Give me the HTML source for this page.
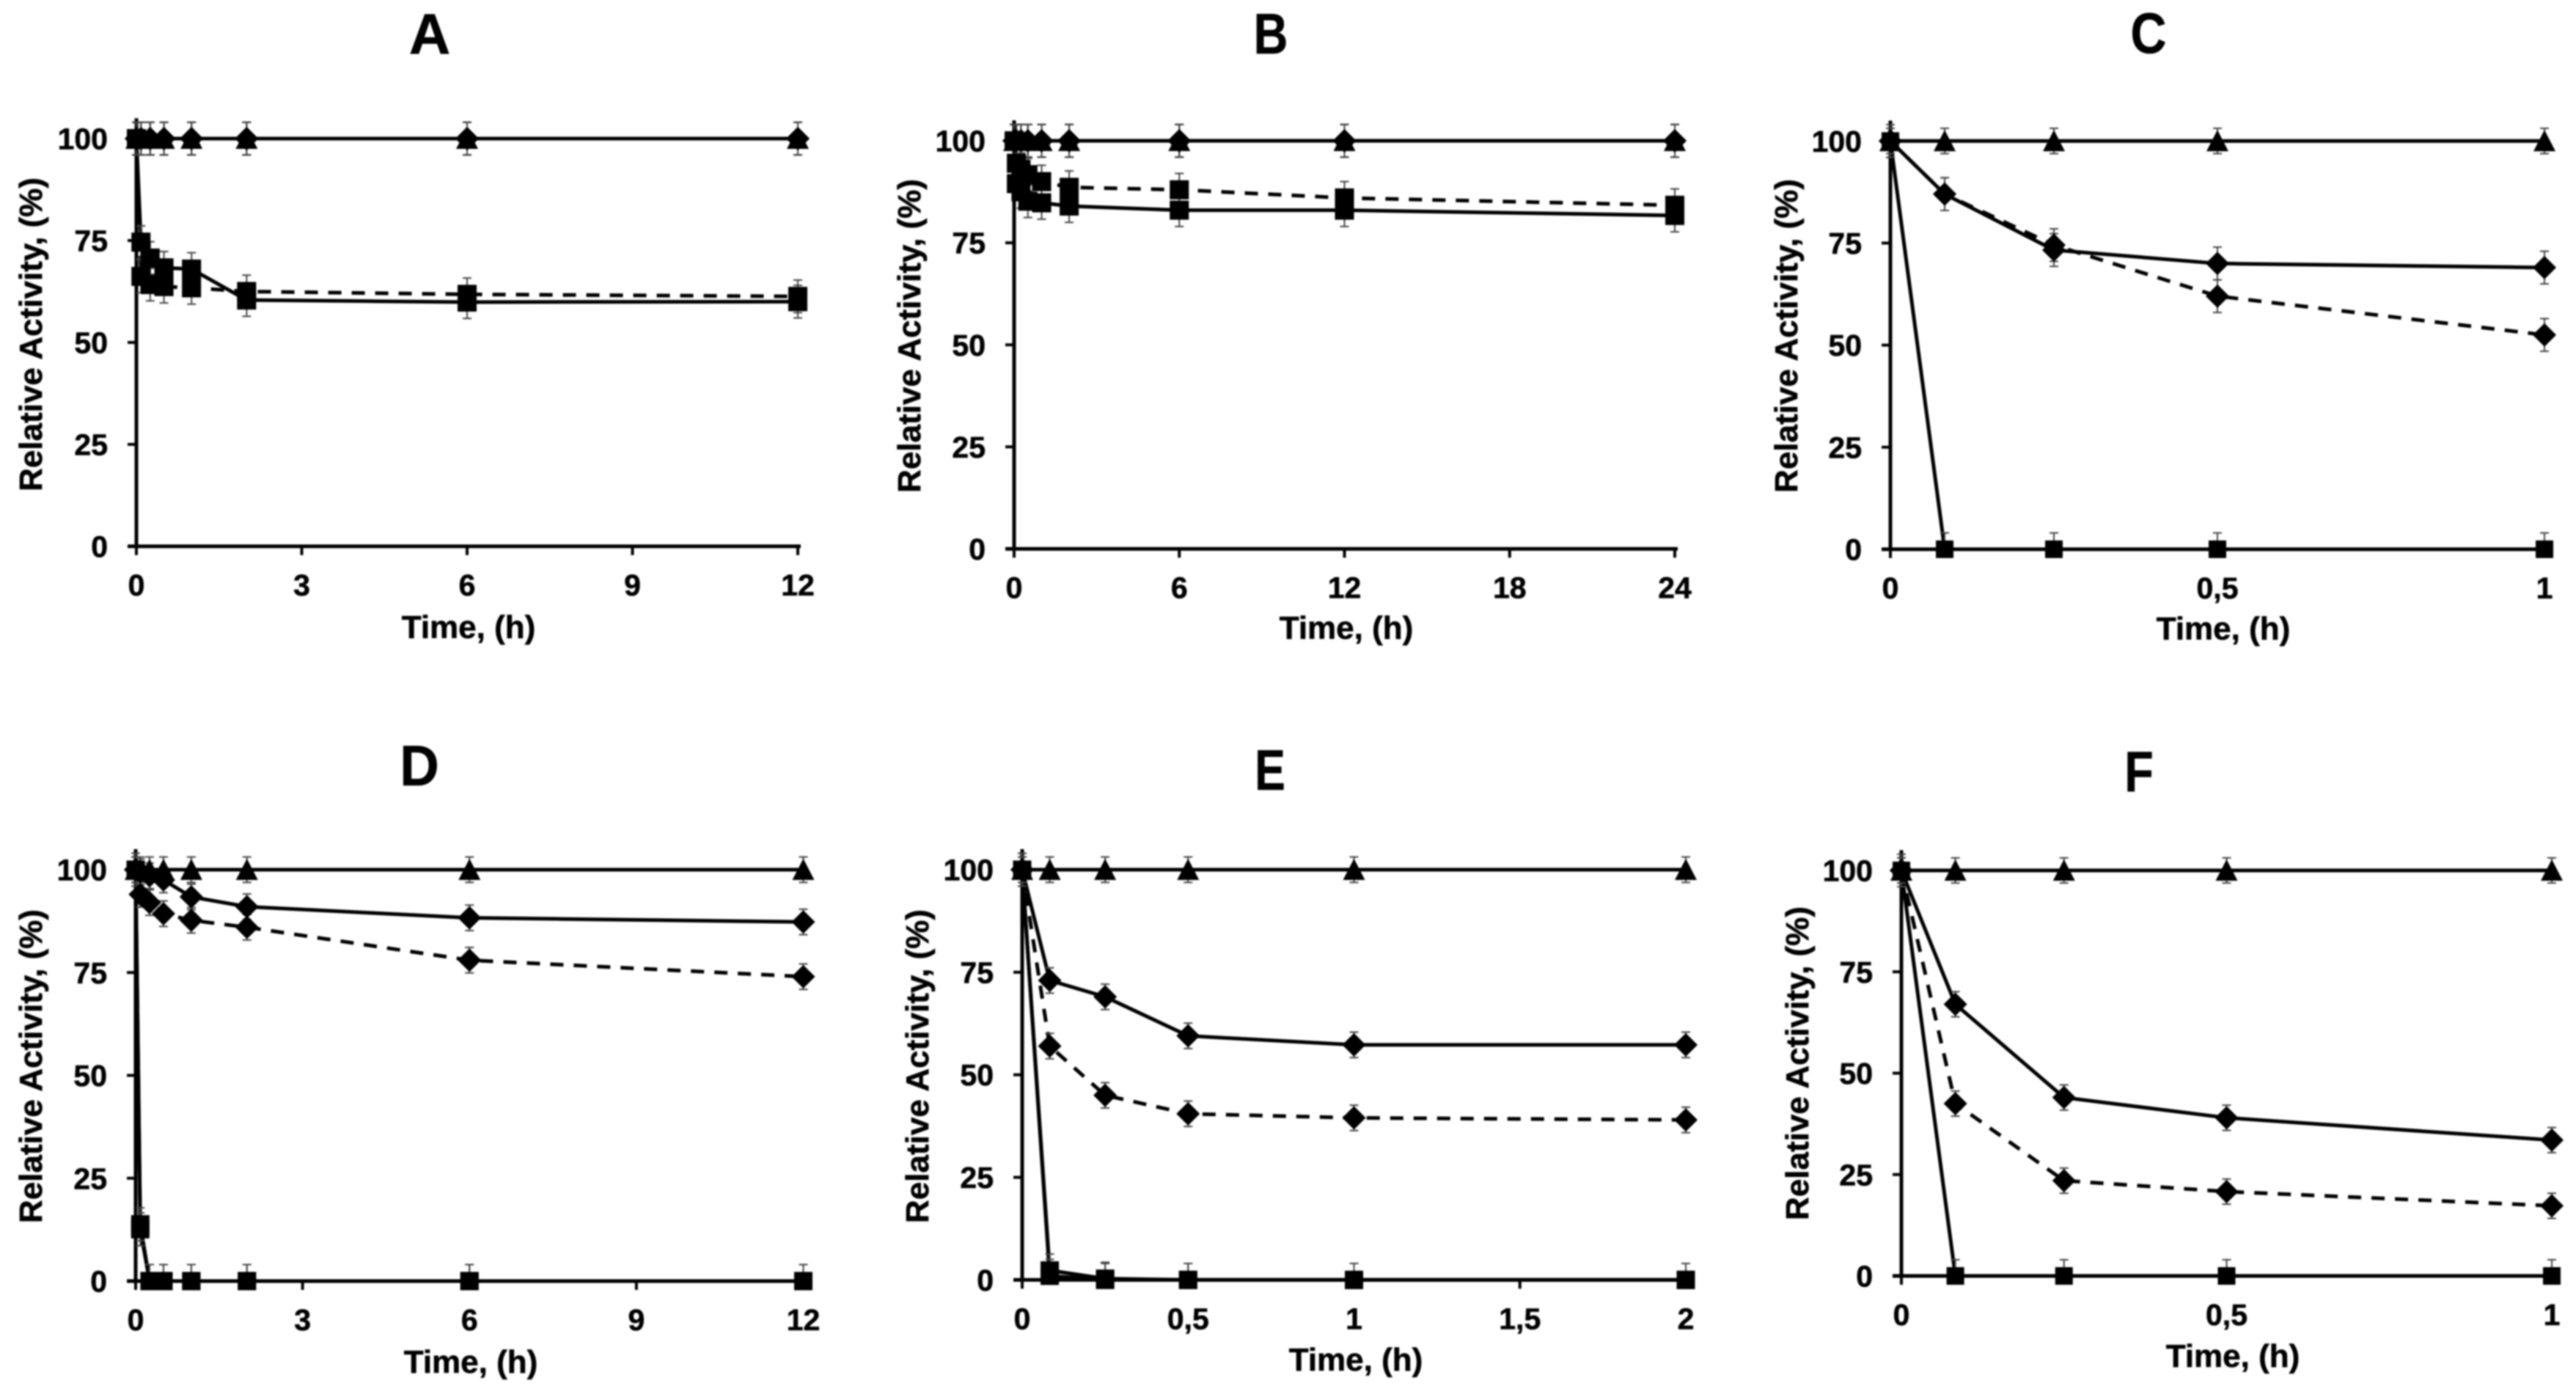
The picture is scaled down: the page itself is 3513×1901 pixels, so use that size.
<!DOCTYPE html>
<html lang="en">
<head>
<meta charset="utf-8">
<title>Relative activity over time, panels A to F</title>
<style>
html,body{margin:0;padding:0;background:#fff;width:3513px;height:1901px;overflow:hidden}
svg{display:block;filter:blur(1px)}
text{font-family:"Liberation Sans",Arial,sans-serif;font-weight:700;fill:#000;stroke:#000;stroke-width:.6px}
.letter{font-size:78px}
.title{font-size:44px;text-anchor:middle}
.tick{font-size:41px}
</style>
</head>
<body>
<svg id="fig" xmlns="http://www.w3.org/2000/svg" width="3513" height="1901" viewBox="0 0 3513 1901">
  <rect width="3513" height="1901" fill="#fff"/>

  <g id="panel-a">
    <text class="letter" text-anchor="middle" transform="translate(586,73)">A</text>
    <text class="title" x="639" y="870">Time, (h)</text>
    <text class="title" transform="translate(57,456) rotate(-90)">Relative Activity, (%)</text>
  </g>
  <g id="panel-b">
    <text class="letter" text-anchor="middle" transform="translate(1733,73) scale(.83,1)">B</text>
    <text class="title" x="1836" y="871">Time, (h)</text>
    <text class="title" transform="translate(1255,458) rotate(-90)">Relative Activity, (%)</text>
  </g>
  <g id="panel-c">
    <text class="letter" text-anchor="middle" transform="translate(2930,72) scale(.87,1)">C</text>
    <text class="title" x="3032" y="872">Time, (h)</text>
    <text class="title" transform="translate(2451,458) rotate(-90)">Relative Activity, (%)</text>
  </g>
  <g id="panel-d">
    <text class="letter" text-anchor="middle" transform="translate(572,1071) scale(.95,1)">D</text>
    <text class="title" x="642" y="1872">Time, (h)</text>
    <text class="title" transform="translate(57,1454) rotate(-90)">Relative Activity, (%)</text>
  </g>
  <g id="panel-e">
    <text class="letter" text-anchor="middle" transform="translate(1732,1077) scale(.8,1)">E</text>
    <text class="title" x="1849" y="1869">Time, (h)</text>
    <text class="title" transform="translate(1266,1454) rotate(-90)">Relative Activity, (%)</text>
  </g>
  <g id="panel-f">
    <text class="letter" text-anchor="middle" transform="translate(2917,1079) scale(.83,1)">F</text>
    <text class="title" x="3045" y="1864">Time, (h)</text>
    <text class="title" transform="translate(2466,1450) rotate(-90)">Relative Activity, (%)</text>
  </g>
</svg>

<script>
// ---- Shared y axis ----
const yTickValues = [0, 25, 50, 75, 100];
const yTickLabels = ['0', '25', '50', '75', '100'];

// ---- Panel A ----
const aTimes = [0, 0.083, 0.25, 0.5, 1, 2, 6, 12];
const aXTicks = [0, 3, 6, 9, 12];
const aXTickLabels = ['0', '3', '6', '9', '12'];
const aDiamondSolid = [100, 100, 100, 100, 100, 100, 100, 100];
const aDiamondDashed = [100, 100, 100, 100, 100, 100, 100, 100];
const aSquareDashed = [100, 66.2, 64.2, 63.7, 63.4, 62.5, 61.8, 61.3];
const aSquareSolid = [100, 74.6, 70.7, 68.3, 68, 60.4, 59.9, 60];
const aTriangle = [100, 100, 100, 100, 100, 100, 100, 100];

// ---- Panel B ----
const bTimes = [0, 0.083, 0.25, 0.5, 1, 2, 6, 12, 24];
const bXTicks = [0, 6, 12, 18, 24];
const bXTickLabels = ['0', '6', '12', '18', '24'];
const bDiamondSolid = [100, 100, 100, 100, 100, 100, 100, 100, 100];
const bDiamondDashed = [100, 100, 100, 100, 100, 100, 100, 100, 100];
const bSquareDashed = [100, 94.5, 93, 91.7, 90, 88.6, 88, 86, 84.2];
const bSquareSolid = [100, 89.5, 87.5, 85.2, 84.8, 84, 83, 83, 81.7];
const bTriangle = [100, 100, 100, 100, 100, 100, 100, 100, 100];

// ---- Panel C ----
const cTimes = [0, 0.083, 0.25, 0.5, 1];
const cXTicks = [0, 0.5, 1];
const cXTickLabels = ['0', '0,5', '1'];
const cDiamondSolid = [100, 87, 73.3, 70, 69];
const cDiamondDashed = [100, 87, 74.5, 62, 52.5];
const cSquare = [100, 0, 0, 0, 0];
const cTriangle = [100, 100, 100, 100, 100];

// ---- Panel D ----
const dTimes = [0, 0.083, 0.25, 0.5, 1, 2, 6, 12];
const dXTicks = [0, 3, 6, 9, 12];
const dXTickLabels = ['0', '3', '6', '9', '12'];
const dDiamondSolid = [100, 99.5, 98.5, 97.5, 93.4, 91, 88.3, 87.3];
const dDiamondDashed = [100, 94, 92, 89.3, 87.7, 86, 78, 74];
const dSquare = [100, 13.8, 0, 0, 0, 0, 0, 0];
const dSquareLower = [100, 12.6, 0, 0, 0, 0, 0, 0];
const dTriangle = [100, 100, 100, 100, 100, 100, 100, 100];

// ---- Panel E ----
const eTimes = [0, 0.083, 0.25, 0.5, 1, 2];
const eXTicks = [0, 0.5, 1, 1.5, 2];
const eXTickLabels = ['0', '0,5', '1', '1,5', '2'];
const eDiamondSolid = [100, 73, 69, 59.5, 57.3, 57.3];
const eDiamondDashed = [100, 57, 45, 40.5, 39.5, 39];
const eSquare = [100, 2.3, 0.3, 0, 0, 0];
const eSquareLower = [100, 1, 0, 0, 0, 0];
const eTriangle = [100, 100, 100, 100, 100, 100];

// ---- Panel F ----
const fTimes = [0, 0.083, 0.25, 0.5, 1];
const fXTicks = [0, 0.5, 1];
const fXTickLabels = ['0', '0,5', '1'];
const fDiamondSolid = [100, 67, 44, 39, 33.5];
const fDiamondDashed = [100, 42.5, 23.5, 20.8, 17.3];
const fSquare = [100, 0, 0, 0, 0];
const fTriangle = [100, 100, 100, 100, 100];

// ---- Error-bar half widths, in activity units ----
const errWide = 4;
const errTriangleNarrow = 3.1;
const errDiamondNarrow = 3.1;

// ---- Layout (frame geometry only; marks are derived from the arrays above) ----
const panels = [
  {id:'a', x0:186,  x1:1088, xMax:12, y100:189, y0:745,  sq:26, times:aTimes, ticks:aXTicks, labels:aXTickLabels, series:[
    {n:'diamond-solid', v:aDiamondSolid, m:'diamond', dash:false, e:errWide},
    {n:'diamond-dashed', v:aDiamondDashed, m:'diamond', dash:true, e:errWide},
    {n:'square-dashed', v:aSquareDashed, m:'square', dash:true, e:errWide},
    {n:'square-solid', v:aSquareSolid, m:'square', dash:false, e:errWide},
    {n:'triangle', v:aTriangle, m:'triangle', dash:false, e:errWide}]},
  {id:'b', x0:1383, x1:2284, xMax:24, y100:192, y0:748.5, sq:26, times:bTimes, ticks:bXTicks, labels:bXTickLabels, series:[
    {n:'diamond-solid', v:bDiamondSolid, m:'diamond', dash:false, e:errWide},
    {n:'diamond-dashed', v:bDiamondDashed, m:'diamond', dash:true, e:errWide},
    {n:'square-dashed', v:bSquareDashed, m:'square', dash:true, e:errWide},
    {n:'square-solid', v:bSquareSolid, m:'square', dash:false, e:errWide},
    {n:'triangle', v:bTriangle, m:'triangle', dash:false, e:errWide}]},
  {id:'c', x0:2578, x1:3470, xMax:1, y100:192.3, y0:749, sq:24, times:cTimes, ticks:cXTicks, labels:cXTickLabels, series:[
    {n:'diamond-dashed', v:cDiamondDashed, m:'diamond', dash:true, e:errWide},
    {n:'diamond-solid', v:cDiamondSolid, m:'diamond', dash:false, e:errWide},
    {n:'triangle', v:cTriangle, m:'triangle', dash:false, e:errTriangleNarrow},
    {n:'square', v:cSquare, m:'square', dash:false, e:errWide}]},
  {id:'d', x0:185,  x1:1095.5, xMax:12, y100:1186, y0:1747, sq:25, times:dTimes, ticks:dXTicks, labels:dXTickLabels, series:[
    {n:'diamond-dashed', v:dDiamondDashed, m:'diamond', dash:true, e:errDiamondNarrow},
    {n:'diamond-solid', v:dDiamondSolid, m:'diamond', dash:false, e:errDiamondNarrow},
    {n:'triangle', v:dTriangle, m:'triangle', dash:false, e:errTriangleNarrow},
    {n:'square-lower', v:dSquareLower, m:'square', dash:false, e:errWide},
    {n:'square', v:dSquare, m:'square', dash:false, e:errWide}]},
  {id:'e', x0:1394, x1:2299, xMax:2, y100:1186, y0:1745.4, sq:25, times:eTimes, ticks:eXTicks, labels:eXTickLabels, series:[
    {n:'diamond-dashed', v:eDiamondDashed, m:'diamond', dash:true, e:errDiamondNarrow},
    {n:'diamond-solid', v:eDiamondSolid, m:'diamond', dash:false, e:errDiamondNarrow},
    {n:'triangle', v:eTriangle, m:'triangle', dash:false, e:errTriangleNarrow},
    {n:'square-lower', v:eSquareLower, m:'square', dash:false, e:errWide},
    {n:'square', v:eSquare, m:'square', dash:false, e:errWide}]},
  {id:'f', x0:2593, x1:3480, xMax:1, y100:1187, y0:1740, sq:24, times:fTimes, ticks:fXTicks, labels:fXTickLabels, series:[
    {n:'diamond-dashed', v:fDiamondDashed, m:'diamond', dash:true, e:errDiamondNarrow},
    {n:'diamond-solid', v:fDiamondSolid, m:'diamond', dash:false, e:errDiamondNarrow},
    {n:'triangle', v:fTriangle, m:'triangle', dash:false, e:errTriangleNarrow},
    {n:'square', v:fSquare, m:'square', dash:false, e:errWide}]}
];

const NS = 'http://www.w3.org/2000/svg';
function make(parent, tag, attrs) {
  const el = document.createElementNS(NS, tag);
  for (const k in attrs) el.setAttribute(k, attrs[k]);
  parent.appendChild(el);
  return el;
}
function xScale(p, t) { return p.x0 + t / p.xMax * (p.x1 - p.x0); }
function yScale(p, v) { return p.y0 - v / 100 * (p.y0 - p.y100); }

function drawAxes(p, root) {
  const g = make(root, 'g', {});
  
  

  const yAxis = make(g, 'line', {x1:p.x0, x2:p.x0, y1:yScale(p, 105), y2:p.y0 + 2, stroke:'#000', 'stroke-width':5});
  
  

  const xAxis = make(g, 'line', {x1:p.x0 - 12, x2:p.x1 + 4, y1:p.y0, y2:p.y0, stroke:'#000', 'stroke-width':5});
  
  

  yTickValues.forEach(function (v, i) {
    const tick = make(g, 'line', {x1:p.x0 - 12, x2:p.x0, y1:yScale(p, v), y2:yScale(p, v), stroke:'#000', 'stroke-width':4});
    
    

    const label = make(g, 'text', {class:'tick', x:p.x0 - 39, y:yScale(p, v) + 14.5, 'text-anchor':'end'});
    label.textContent = yTickLabels[i];
    
    
  });

  p.ticks.forEach(function (t, i) {
    const tick = make(g, 'line', {x1:xScale(p, t), x2:xScale(p, t), y1:p.y0, y2:p.y0 + 12, stroke:'#000', 'stroke-width':4});
    
    

    const label = make(g, 'text', {class:'tick', x:xScale(p, t), y:p.y0 + 67, 'text-anchor':'middle'});
    label.textContent = p.labels[i];
    
    
  });
}

function drawMarker(g, p, s, x, y) {
  let el;
  if (s.m === 'square') {
    el = make(g, 'rect', {x:x - p.sq / 2, y:y - p.sq / 2, width:p.sq, height:p.sq, fill:'#000'});
  } else if (s.m === 'diamond') {
    el = make(g, 'polygon', {points:[x, y - 16, x + 16, y, x, y + 16, x - 16, y].join(' '), fill:'#000'});
  } else {
    el = make(g, 'polygon', {points:[x, y - 15, x + 15, y + 14, x - 15, y + 14].join(' '), fill:'#000'});
  }
  
  
}

function drawSeries(p, root) {
  const lineLayer = make(root, 'g', {});
  
  

  const errorLayer = make(root, 'g', {});
  
  

  const pointLayer = make(root, 'g', {});
  
  

  p.series.forEach(function (s) {
    const pts = s.v.map(function (v, i) { return xScale(p, p.times[i]) + ',' + yScale(p, v); }).join(' ');
    const attrs = {points:pts, fill:'none', stroke:'#000', 'stroke-width':5, 'stroke-linejoin':'round'};
    if (s.dash) attrs['stroke-dasharray'] = '18 14';
    const line = make(lineLayer, 'polyline', attrs);
    
    

    s.v.forEach(function (v, i) {
      const x = xScale(p, p.times[i]);
      const top = yScale(p, v + s.e);
      const low = v - s.e;
      const bottom = yScale(p, Math.max(low, 0));
      const err = make(errorLayer, 'path', {
        d:'M' + x + ' ' + top + 'V' + bottom + 'M' + (x - 6) + ' ' + top + 'H' + (x + 6) +
          (low > 0 ? 'M' + (x - 6) + ' ' + bottom + 'H' + (x + 6) : ''),
        fill:'none', stroke:'#444', 'stroke-width':2
      });
      
      

      drawMarker(pointLayer, p, s, x, yScale(p, v));
    });
  });
}

panels.forEach(function (p) {
  const root = document.getElementById('panel-' + p.id);
  drawAxes(p, root);
  drawSeries(p, root);
});
</script>
</body>
</html>
